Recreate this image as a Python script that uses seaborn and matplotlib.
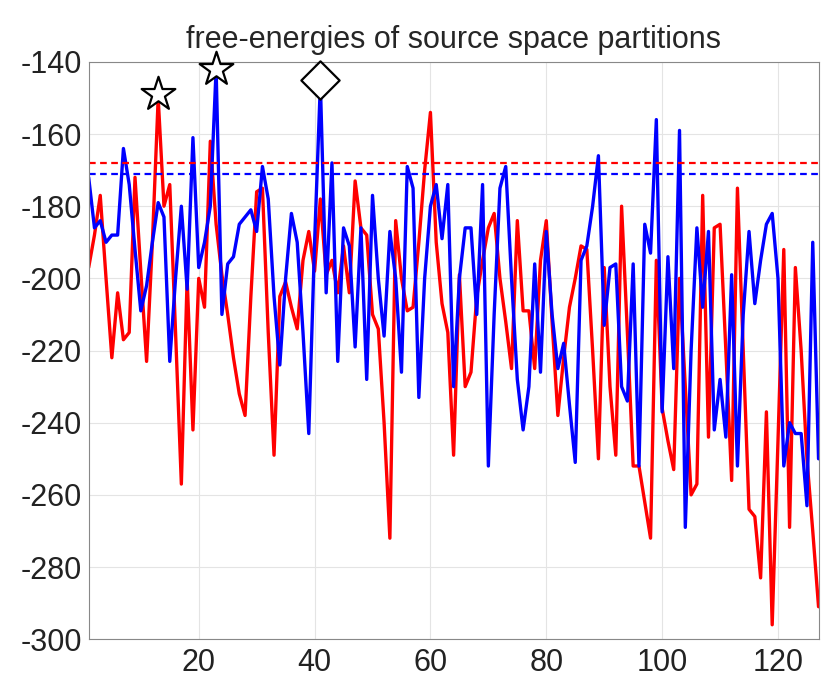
import numpy as np
import pandas as pd
import seaborn as sns
import matplotlib.pyplot as plt

# free energy per partition
red_fe = [-197, -188, -177, -200, -222, -204, -217, -215, -172, -198,
          -223, -190, -150, -180, -174, -215, -257, -200, -242, -200,
          -208, -162, -185, -199, -210, -222, -232, -238, -205, -176,
          -175, -215, -249, -205, -201, -208, -214, -195, -187, -198,
          -178, -199, -195, -204, -191, -204, -173, -186, -188, -210,
          -214, -240, -272, -184, -200, -209, -208, -190, -170, -154,
          -190, -207, -215, -249, -199, -230, -226, -205, -195, -186,
          -182, -200, -212, -225, -184, -209, -209, -225, -195, -184,
          -212, -238, -222, -208, -200, -191, -192, -220, -250, -197,
          -230, -249, -180, -215, -252, -252, -262, -272, -195, -236,
          -245, -253, -200, -230, -260, -257, -177, -244, -186, -185,
          -220, -256, -175, -220, -264, -266, -283, -237, -296, -245,
          -192, -269, -197, -220, -250, -270, -291]
blue_fe = [-172, -186, -184, -190, -188, -188, -164, -174, -192, -209,
           -202, -190, -179, -183, -223, -200, -180, -203, -161, -197,
           -190, -180, -142, -210, -196, -194, -185, -183, -181, -187,
           -169, -178, -205, -224, -200, -182, -190, -215, -243, -190,
           -146, -204, -168, -223, -186, -191, -219, -186, -228, -177,
           -200, -216, -187, -200, -226, -169, -175, -233, -200, -180,
           -174, -189, -174, -230, -200, -186, -186, -210, -174, -252,
           -210, -175, -169, -200, -228, -242, -230, -196, -226, -187,
           -210, -225, -218, -235, -251, -195, -191, -180, -166, -213,
           -197, -196, -230, -234, -196, -252, -185, -193, -156, -237,
           -194, -225, -159, -269, -220, -186, -208, -187, -242, -228,
           -244, -199, -252, -210, -187, -207, -195, -185, -182, -200,
           -252, -240, -243, -243, -263, -190, -250]
red_thr = -168
blue_thr = -171
star_x = [13, 23]
star_y = [-149, -142]
diam_x = [41]
diam_y = [-145]

partition = np.arange(1, len(red_fe) + 1)
df = pd.DataFrame({"partition": np.concatenate([partition, partition]),
                   "fe": red_fe + blue_fe,
                   "model": ["red"] * len(red_fe) + ["blue"] * len(blue_fe)})

sns.set_style("whitegrid", {"grid.color": "#e4e4e4", "axes.edgecolor": "#888888",
                            "xtick.direction": "in", "ytick.direction": "in"})
plt.rcParams['font.family'] = ['Liberation Sans', 'DejaVu Sans']
plt.rcParams['axes.unicode_minus'] = False

fig = plt.figure(figsize=(8.21, 6.8), dpi=100)
ax = fig.add_axes([0.108, 0.06, 0.889, 0.849])

sns.lineplot(data=df, x="partition", y="fe", hue="model",
             palette={"red": "#ff0000", "blue": "#0000ff"},
             linewidth=2.4, legend=False, ax=ax)
ax.axhline(red_thr, color="#ff0000", ls="--", lw=1.6, dashes=(3, 2))
ax.axhline(blue_thr, color="#0000ff", ls="--", lw=1.6, dashes=(3, 2))

sns.scatterplot(x=star_x, y=star_y, marker="*", s=650, color="white",
                edgecolor="black", linewidth=1.6, ax=ax, zorder=5, clip_on=False)
sns.scatterplot(x=diam_x, y=diam_y, marker="D", s=380, color="white",
                edgecolor="black", linewidth=1.6, ax=ax, zorder=5, clip_on=False)

ax.set_xlim(1, 127)
ax.set_ylim(-300, -140)
ax.set_xticks([20, 40, 60, 80, 100, 120])
ax.set_yticks(np.arange(-300, -139, 20))
ax.tick_params(labelsize=22, colors="#222222", length=4, width=0.8)
ax.tick_params(axis="x", pad=6)
ax.tick_params(axis="y", pad=5)
ax.set_xlabel("")
ax.set_ylabel("")
ax.set_title("free-energies of source space partitions", fontsize=22, pad=10)

fig.savefig("out.png", dpi=100)
